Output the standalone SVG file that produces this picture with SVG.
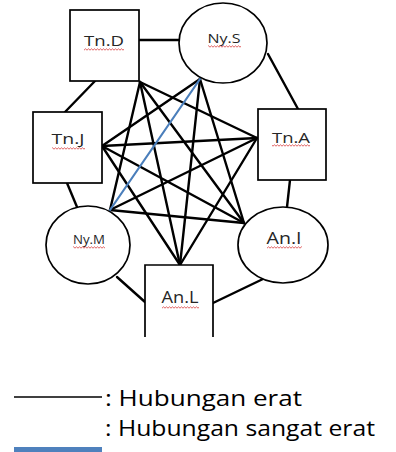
<svg xmlns="http://www.w3.org/2000/svg" width="396" height="452" viewBox="0 0 396 452">
  <style>
    .shape { fill: #ffffff; stroke: #000000; stroke-width: 1.7; }
    .edge { stroke: #000000; stroke-width: 2.4; stroke-linecap: round; fill: none; }
    .strong { stroke: #4a7ebb; stroke-width: 2.2; stroke-linecap: round; fill: none; }
    .label { font-family: "Open Sans", "Liberation Sans", sans-serif; fill: #262626; text-anchor: middle; }
    .legend { font-family: "Open Sans", "Liberation Sans", sans-serif; font-size: 21.5px; fill: #000000; }
  </style>
  <defs>
    <!-- red wavy spell-check underline -->
    <pattern id="squiggle" width="3" height="3" patternUnits="userSpaceOnUse">
      <path d="M0 2.2 L1.5 0.8 L3 2.2" fill="none" stroke="#d83a3a" stroke-width="0.8"/>
    </pattern>
  </defs>

  <rect width="396" height="452" fill="#ffffff"/>

  <!-- connectors -->
  <g id="connectors">
    <!-- ring -->
    <line class="edge" x1="139" y1="40" x2="179" y2="40"/>
    <line class="edge" x1="95" y1="81" x2="65" y2="112"/>
    <line class="edge" x1="268" y1="54" x2="298" y2="109"/>
    <line class="edge" x1="67" y1="183" x2="77" y2="207"/>
    <line class="edge" x1="290" y1="180" x2="287" y2="207"/>
    <line class="edge" x1="117" y1="277" x2="145" y2="302"/>
    <line class="edge" x1="263" y1="279" x2="213" y2="303"/>
    <!-- inner mesh -->
    <line class="edge" x1="140" y1="82" x2="257" y2="138"/>
    <line class="edge" x1="140" y1="82" x2="244" y2="223"/>
    <line class="edge" x1="140" y1="82" x2="180" y2="265"/>
    <line class="edge" x1="140" y1="82" x2="110" y2="210"/>
    <line class="edge" x1="200" y1="79" x2="102" y2="146"/>
    <line class="edge" x1="200" y1="79" x2="180" y2="265"/>
    <line class="edge" x1="200" y1="79" x2="244" y2="223"/>
    <line class="edge" x1="102" y1="146" x2="257" y2="138"/>
    <line class="edge" x1="102" y1="146" x2="244" y2="223"/>
    <line class="edge" x1="102" y1="146" x2="180" y2="265"/>
    <line class="edge" x1="257" y1="138" x2="110" y2="210"/>
    <line class="edge" x1="257" y1="138" x2="180" y2="265"/>
    <line class="edge" x1="110" y1="210" x2="244" y2="223"/>
    <line class="strong" x1="200" y1="79" x2="110" y2="210"/>
  </g>

  <g id="node-tnd">
    <rect class="shape" x="70" y="10" width="69" height="71"/>
    <text class="label" x="104" y="46" font-size="15" textLength="40" lengthAdjust="spacingAndGlyphs">Tn.D</text>
    <rect x="84" y="48" width="40" height="3" fill="url(#squiggle)"/>
  </g>

  <g id="node-nys">
    <ellipse class="shape" cx="223" cy="43" rx="44" ry="40"/>
    <text class="label" x="224" y="43" font-size="13" textLength="33" lengthAdjust="spacingAndGlyphs">Ny.S</text>
    <rect x="208" y="45" width="33" height="3" fill="url(#squiggle)"/>
  </g>

  <g id="node-tnj">
    <rect class="shape" x="33" y="112" width="69" height="71"/>
    <text class="label" x="68" y="144" font-size="14" textLength="33" lengthAdjust="spacingAndGlyphs">Tn.J</text>
    <rect x="52" y="147" width="33" height="3" fill="url(#squiggle)"/>
  </g>

  <g id="node-tna">
    <rect class="shape" x="258" y="109" width="68" height="71"/>
    <text class="label" x="291" y="143" font-size="15" textLength="38" lengthAdjust="spacingAndGlyphs">Tn.A</text>
    <rect x="272" y="144" width="38" height="3" fill="url(#squiggle)"/>
  </g>

  <g id="node-nym">
    <ellipse class="shape" cx="88" cy="245" rx="42" ry="39"/>
    <text class="label" x="89" y="244" font-size="12" textLength="32" lengthAdjust="spacingAndGlyphs">Ny.M</text>
    <rect x="73" y="246" width="32" height="3" fill="url(#squiggle)"/>
  </g>

  <g id="node-ani">
    <ellipse class="shape" cx="283" cy="245" rx="45" ry="38"/>
    <text class="label" x="284" y="244" font-size="17" textLength="35" lengthAdjust="spacingAndGlyphs">An.I</text>
    <rect x="267" y="246" width="35" height="3" fill="url(#squiggle)"/>
  </g>

  <g id="node-anl">
    <path class="shape" d="M145 337 V265 H213 V337"/>
    <text class="label" x="180" y="303" font-size="17" textLength="37" lengthAdjust="spacingAndGlyphs">An.L</text>
    <rect x="162" y="306" width="37" height="3" fill="url(#squiggle)"/>
  </g>

  <!-- legend -->
  <g id="legend">
    <line x1="14" y1="397" x2="102" y2="397" stroke="#000000" stroke-width="1.5"/>
    <text class="legend" x="105" y="406" textLength="197" lengthAdjust="spacingAndGlyphs">: Hubungan erat</text>
    <text class="legend" x="105" y="436" textLength="270" lengthAdjust="spacingAndGlyphs">: Hubungan sangat erat</text>
    <rect x="14" y="447" width="88" height="6" fill="#4f81bd"/>
  </g>
</svg>
